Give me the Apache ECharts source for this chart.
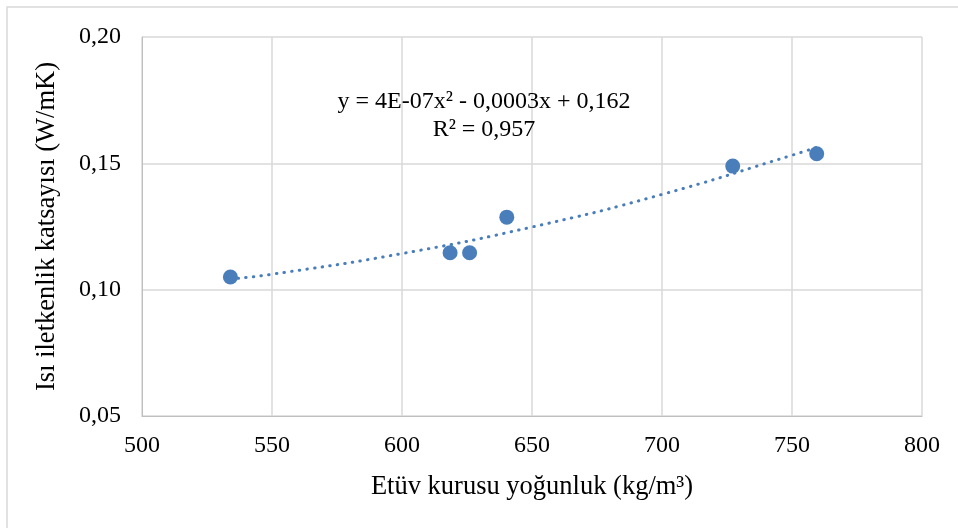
<!DOCTYPE html>
<html><head><meta charset="utf-8">
<script src="https://cdn.jsdelivr.net/npm/echarts@6/dist/echarts.min.js"></script>
<style>html,body{margin:0;padding:0;background:#fff}#c{width:958px;height:528px}</style>
</head><body><div id="c"></div>
<script>
const densityX = [534, 618.5, 626, 640.3, 727.2, 759.5];
const conductivityY = [0.105, 0.1146, 0.1146, 0.1287, 0.1489, 0.1538];
const trendX = [534, 550, 600, 650, 700, 750, 760];
const trendY = [0.1042, 0.1061, 0.1143, 0.1248, 0.1377, 0.1532, 0.1565];
const xTicks = [500, 550, 600, 650, 700, 750, 800];
const yTicks = [0.05, 0.10, 0.15, 0.20];
const equationText = 'y = 4E-07x² - 0,0003x + 0,162';
const r2Text = 'R² = 0,957';

const font = 'Liberation Serif, Times New Roman, serif';
const blue = '#4a7ebb';
const chart = echarts.init(document.getElementById('c'));
chart.setOption({
  animation: false,
  backgroundColor: '#fff',
  grid: {left: 142, right: 36, top: 37, bottom: 112, containLabel: false},
  xAxis: {
    type: 'value', min: xTicks[0], max: xTicks[xTicks.length-1], interval: 50,
    axisLine: {show: true, lineStyle: {color: '#bfbfbf', width: 1}},
    axisTick: {show: false},
    splitLine: {show: true, lineStyle: {color: '#d9d9d9', width: 1.5}},
    axisLabel: {color: '#000', fontFamily: font, fontSize: 24, margin: 18},
    name: 'Etüv kurusu yoğunluk (kg/m³)', nameLocation: 'middle', nameGap: 58,
    nameTextStyle: {color: '#000', fontFamily: font, fontSize: 26.5}
  },
  yAxis: {
    type: 'value', min: yTicks[0], max: yTicks[yTicks.length-1], interval: 0.05,
    axisLine: {show: true, lineStyle: {color: '#bfbfbf', width: 1}},
    axisTick: {show: false},
    splitLine: {show: true, lineStyle: {color: '#d9d9d9', width: 1.5}},
    axisLabel: {color: '#000', fontFamily: font, fontSize: 24, margin: 21,
      formatter: v => v.toFixed(2).replace('.', ',')},
    name: 'Isı iletkenlik katsayısı (W/mK)', nameLocation: 'middle', nameGap: 81,
    nameTextStyle: {color: '#000', fontFamily: font, fontSize: 26.5}
  },
  graphic: [
    {type: 'rect', shape: {x: 7, y: 7, width: 1000, height: 600}, style: {fill: 'none', stroke: '#d9d9d9', lineWidth: 1.5}, silent: true, z: -1},
    {type: 'text', x: 484, y: 88, style: {text: equationText + '\n' + r2Text, fontFamily: font, fontSize: 24, fill: '#000', align: 'center', verticalAlign: 'top', lineHeight: 28}, z: 10}
  ],
  series: [
    {type: 'line', data: trendX.map((x, i) => [x, trendY[i]]), smooth: true, showSymbol: false,
     lineStyle: {color: blue, width: 3, type: [0.5, 7.2], cap: 'round'}, z: 2},
    {type: 'scatter', data: densityX.map((x, i) => [x, conductivityY[i]]), symbolSize: 15,
     itemStyle: {color: blue, opacity: 1}, z: 3}
  ]
});
</script></body></html>
